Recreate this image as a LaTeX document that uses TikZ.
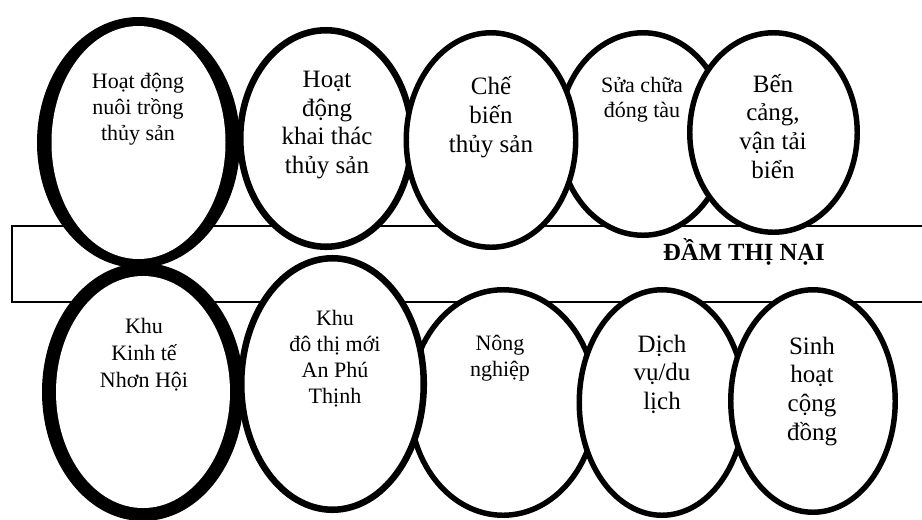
\documentclass[tikz,border=0pt]{standalone}
\usepackage{fontspec}
\setmainfont{Liberation Serif}
\usepackage{tikz}

\tikzset{
  bubble/.style={draw=black,fill=white,line width=4.1pt},
  heavy bubble/.style={bubble,line width=4.9pt},
  small text/.style={align=center,inner sep=0pt,anchor=base,font=\fontsize{16.5}{19.5}\selectfont},
  big text/.style={align=center,inner sep=0pt,anchor=base,font=\fontsize{18.75}{21.45}\selectfont},
  lagoon text/.style={inner sep=0pt,anchor=base,font=\fontsize{18.5}{22}\selectfont\bfseries}
}

\begin{document}
\begin{tikzpicture}[x=0.75pt,y=-0.75pt]
\useasboundingbox (0,0) rectangle (922,519);

% the lagoon band, open to the right
\draw[line width=0.9pt] (930,226) -- (12,226) -- (12,302) -- (930,302);

% upper row
\fill[black] (138.5,142.5) ellipse [x radius=101.5,y radius=125.5];
\fill[white] (138.5,142.5) ellipse [x radius=87,y radius=116.5];
\filldraw[heavy bubble] (326,138.5) ellipse [x radius=85.75,y radius=108.25];
\filldraw[bubble] (643,134) ellipse [x radius=84.25,y radius=101.25];
\filldraw[bubble] (491,140) ellipse [x radius=84.75,y radius=107.25];
\filldraw[bubble] (773.5,132.5) ellipse [x radius=83.75,y radius=99.75];

% lower row
\filldraw[bubble] (503,402.5) ellipse [x radius=93.25,y radius=112.75];
\fill[black] (143,392) ellipse [x radius=101,y radius=129];
\fill[white] (143,392) ellipse [x radius=87,y radius=116];
\filldraw[heavy bubble] (332.5,384) ellipse [x radius=91.25,y radius=125.75];
\filldraw[bubble] (662,402.5) ellipse [x radius=82.75,y radius=112.75];
\filldraw[bubble] (813,401) ellipse [x radius=82.25,y radius=111.25];

% labels (anchored on the baseline of the last line)
\node[small text] (nuoi) at (138,140) {Hoạt động\\nuôi trồng\\thủy sản};
\node[big text] (khaithac) at (327,173.3) {Hoạt\\động\\khai thác\\thủy sản};
\node[big text] (chebien) at (491,152) {Chế\\biến\\thủy sản};
\node[small text,font=\fontsize{16.5}{18.75}\selectfont] (suachua) at (642,117) {Sửa chữa\\đóng tàu};
\node[big text] (bencang) at (773,178) {Bến\\cảng,\\vận tải\\biển};
\node[small text,font=\fontsize{16.5}{20.25}\selectfont] (kinhte) at (144,387) {Khu\\Kinh tế\\Nhơn Hội};
\node[small text] (dothi) at (335,403.3) {Khu\\đô thị mới\\An Phú\\Thịnh};
\node[small text] (nongnghiep) at (500,376) {Nông\\nghiệp};
\node[big text] (dulich) at (662,409.3) {Dịch\\vụ/du\\lịch};
\node[big text] (sinhhoat) at (812,440) {Sinh\\hoạt\\cộng\\đồng};
\node[lagoon text] (damthinai) at (744,260) {ĐẦM THỊ NẠI};
\end{tikzpicture}
\end{document}
